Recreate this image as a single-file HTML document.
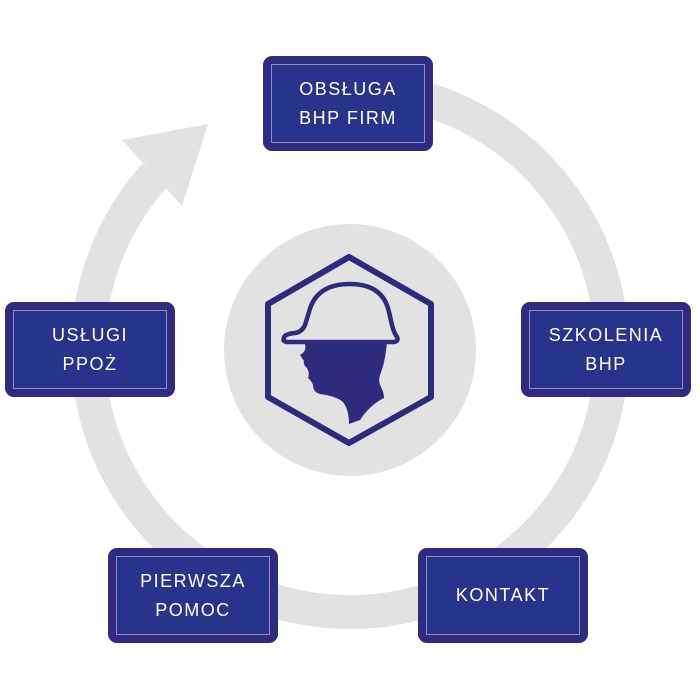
<!DOCTYPE html>
<html><head><meta charset="utf-8"><style>
html,body{margin:0;padding:0;background:#fff;}
body{width:700px;height:700px;position:relative;overflow:hidden;font-family:"Liberation Sans",sans-serif;}
.b{position:absolute;width:170px;height:95px;background:#302a80;border-radius:9px;box-sizing:border-box;padding:8px;}
.b div{width:100%;height:100%;box-sizing:border-box;border:1px solid #8a8fc8;background:#27348b;color:#fff;display:flex;align-items:center;justify-content:center;text-align:center;font-size:18px;letter-spacing:1.5px;line-height:29px;}
</style></head><body>
<svg width="700" height="700" style="position:absolute;left:0;top:0">
<path d="M350 88 A262 262 0 1 1 155 175" fill="none" stroke="#e2e2e2" stroke-width="34"/>
<polygon points="122,140 208,124 182,206" fill="#e2e2e2"/>
<circle cx="350" cy="350" r="126" fill="#e2e2e2"/>
<polygon points="349,257 431,304 431,397 349,443 268,397 268,304" fill="none" stroke="#2e2a7e" stroke-width="6" stroke-linejoin="round"/>
<path d="M284 338 Q284 334 295 333 Q302 332 305 325 L309 312 Q316 284 350 284 Q383 284 389 312 L392 325 Q394 333 397 337 Q399 341 394 342 L287 342 Q282 341 284 338 Z" fill="none" stroke="#2e2a7e" stroke-width="4.5" stroke-linejoin="round"/>
<path d="M306 340 L387 340 Q386 360 380 375 Q378 382 381 387 Q384 393 384 398 Q370 405 360 420 L349 424 Q349 410 343 402 Q336 396 320 394 Q313 392 313 385 Q311 380 308 378 Q310 373 307 368 Q303 365 304 361 Q302 358 300 355 Q307 351 305 345 Z" fill="#2e2a7e"/>
</svg>
<div class="b" style="left:263px;top:56px"><div>OBSŁUGA<br>BHP FIRM</div></div>
<div class="b" style="left:521px;top:302px"><div>SZKOLENIA<br>BHP</div></div>
<div class="b" style="left:5px;top:302px"><div>USŁUGI<br>PPOŻ</div></div>
<div class="b" style="left:108px;top:548px"><div>PIERWSZA<br>POMOC</div></div>
<div class="b" style="left:418px;top:548px"><div>KONTAKT</div></div>
</body></html>
